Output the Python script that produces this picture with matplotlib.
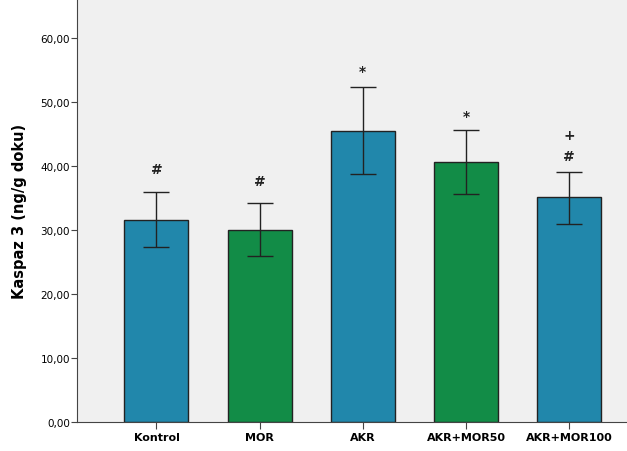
import numpy as np
import matplotlib.pyplot as plt

groups = ['Kontrol', 'MOR', 'AKR', 'AKR+MOR50', 'AKR+MOR100']
means = [31.6, 30.05, 45.5, 40.6, 35.1]
err_upper = [35.9, 34.3, 52.3, 45.7, 39.1]
err_lower = [27.3, 25.9, 38.7, 35.7, 31.0]
# significance marks: group index, symbol, y
mark_idx = [0, 1, 2, 3, 4, 4]
marks = ['#', '#', '*', '*', '+', '#']
mark_y = [39.5, 37.7, 54.8, 47.8, 44.8, 41.5]

blue = '#2187ab'
green = '#128c47'
colors = [blue, green, blue, green, blue]

fig = plt.figure(figsize=(6.27, 4.52), dpi=100)
ax = fig.add_axes([77/627, 29/452, 1 - 77/627, 423/452])
ax.set_facecolor('#f0f0f0')

x = np.arange(len(groups))
m = np.array(means)
yerr = [m - np.array(err_lower), np.array(err_upper) - m]
ax.bar(x, means, width=0.62, color=colors, edgecolor='#222222', linewidth=1)
ax.errorbar(x, means, yerr=yerr, fmt='none', ecolor='#222222', elinewidth=1,
            capsize=9.5, capthick=1)

for i, t, yi in zip(mark_idx, marks, mark_y):
    ax.text(x[i], yi, t, ha='center', va='center', fontsize=10, fontweight='bold',
            color='#222222')

ax.set_xlim(-0.77, 4.56)
ax.set_ylim(0, 66.1)
ax.set_yticks(np.arange(0, 61, 10))
ax.set_yticklabels(['%d,00' % v for v in range(0, 61, 10)], fontsize=7.5)
ax.set_xticks(x)
ax.set_xticklabels(groups, fontsize=8, fontweight='bold')
ax.set_ylabel('Kaspaz 3 (ng/g doku)', fontsize=10.5, fontweight='bold', labelpad=10)

for s in ['top', 'right']:
    ax.spines[s].set_visible(False)
ax.spines['left'].set_color('#444444')
ax.spines['bottom'].set_color('#444444')
ax.tick_params(axis='y', length=4, color='#444444', pad=1)
ax.tick_params(axis='x', length=5, color='#444444', pad=2)

fig.savefig('out.png', dpi=100)
